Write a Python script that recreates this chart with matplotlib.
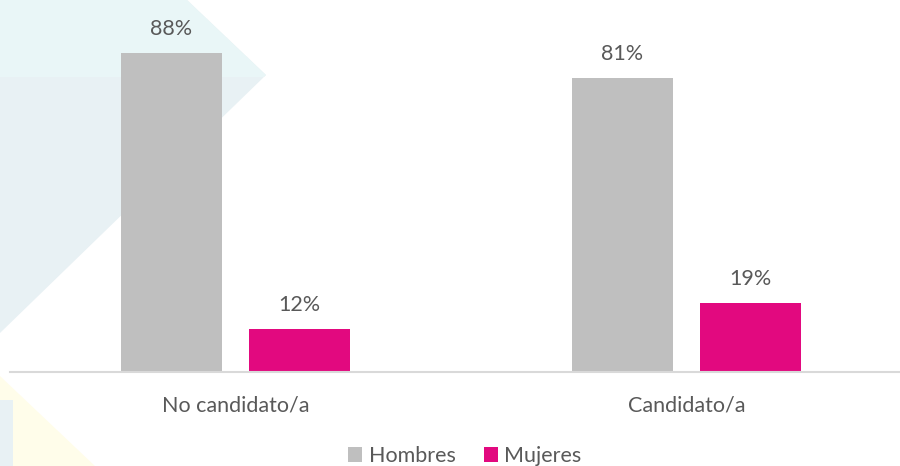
import matplotlib
matplotlib.use("Agg")
import matplotlib.pyplot as plt
from matplotlib.patches import Polygon, Rectangle
import numpy as np

categories = ["No candidato/a", "Candidato/a"]
series_names = ["Hombres", "Mujeres"]
hombres = [88, 81]
mujeres = [12, 19]
colors = ["#bfbfbf", "#e2097f"]

plt.rcParams['font.family'] = ['Lato', 'DejaVu Sans']
W, H = 900, 466
fig = plt.figure(figsize=(W / 100, H / 100), dpi=100)
fig.patch.set_facecolor("white")

# background decoration
bg = fig.add_axes([0, 0, 1, 1], zorder=0)
bg.set_xlim(0, W); bg.set_ylim(H, 0); bg.axis("off")
bg.add_patch(Polygon([(0, 0), (187, 0), (266, 75), (0, 333)], closed=True,
                     facecolor="#e8f1f4", edgecolor="none"))
bg.add_patch(Polygon([(0, 0), (187, 0), (266, 75), (264, 77), (0, 77)], closed=True,
                     facecolor="#e9f6f7", edgecolor="none"))
bg.add_patch(Polygon([(0, 376), (0, 466), (95, 466)], closed=True,
                     facecolor="#fffdea", edgecolor="none"))
bg.add_patch(Rectangle((0, 400), 13, 66, facecolor="#e8f1f4", edgecolor="none"))

# main axes: left 10px, right 900px, baseline at y=372, top at y=0
left, right, base = 10, 900, 372
ax = fig.add_axes([left / W, (H - base) / H, (right - left) / W, base / H], zorder=1)
ax.patch.set_alpha(0)
unit = 451.0
c0 = 235.5
ax.set_xlim((left - c0) / unit, (right - c0) / unit)
ax.set_ylim(0, base / 3.625)

x = np.arange(len(categories))
bw = 101 / unit
off = 64 / unit
b1 = ax.bar(x - off, hombres, bw, color=colors[0], label=series_names[0])
b2 = ax.bar(x + off, mujeres, bw, color=colors[1], label=series_names[1])

txtc = "#595959"
fs = 15.5
for bars, vals in ((b1, hombres), (b2, mujeres)):
    for r, v in zip(bars, vals):
        ax.annotate(f"{v}%", (r.get_x() + r.get_width() / 2, v), xytext=(0, 10),
                    textcoords="offset points", ha="center", va="bottom",
                    fontsize=fs, color=txtc)

for s in ("top", "right", "left"):
    ax.spines[s].set_visible(False)
ax.spines["bottom"].set_color("#d9d9d9")
ax.spines["bottom"].set_linewidth(1.5)
ax.set_yticks([])
ax.set_xticks(x)
ax.set_xticklabels(categories, fontsize=fs, color=txtc)
ax.tick_params(axis="x", length=0, pad=17)

leg = fig.legend(handles=[b1, b2], labels=series_names, loc="center",
                 bbox_to_anchor=(465 / W, 1 - 456 / H), ncol=2, frameon=False,
                 fontsize=fs, handlelength=0.65, handleheight=0.65,
                 handletextpad=0.3, columnspacing=1.3)
for t in leg.get_texts():
    t.set_color(txtc)

fig.savefig("out.png", dpi=100)
